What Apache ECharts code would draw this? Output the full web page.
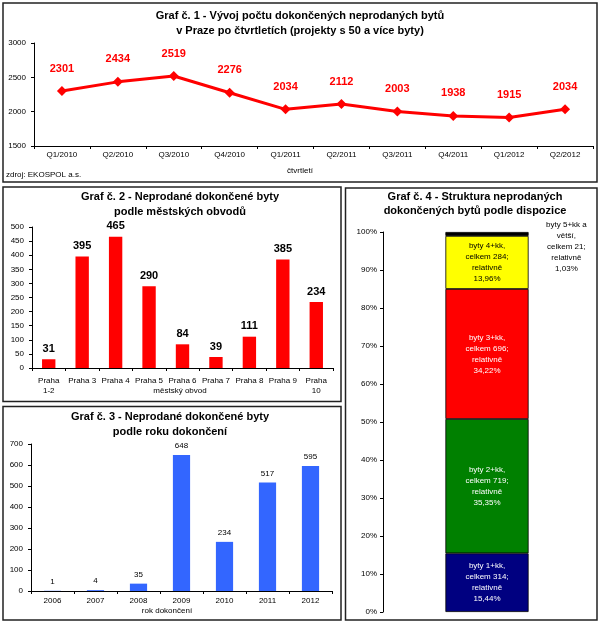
<!DOCTYPE html>
<html><head><meta charset="utf-8">
<script src="https://cdn.jsdelivr.net/npm/echarts@6/dist/echarts.min.js"></script>
<style>html,body{margin:0;padding:0;background:#fff}#c{width:600px;height:622px}</style>
</head><body><div id="c"></div>
<script>
// ---- data ----
const quarters = ['Q1/2010','Q2/2010','Q3/2010','Q4/2010','Q1/2011','Q2/2011','Q3/2011','Q4/2011','Q1/2012','Q2/2012'];
const unsoldByQuarter = [2301,2434,2519,2276,2034,2112,2003,1938,1915,2034];
const quarterTicks = {min:1500, max:3000, interval:500};

const districts = ['Praha\n1-2','Praha 3','Praha 4','Praha 5','Praha 6','Praha 7','Praha 8','Praha 9','Praha\n10'];
const unsoldByDistrict = [31,395,465,290,84,39,111,385,234];
const districtTicks = {min:0, max:500, interval:50};

const years = ['2006','2007','2008','2009','2010','2011','2012'];
const unsoldByYear = [1,4,35,648,234,517,595];
const yearTicks = {min:0, max:700, interval:100};

const layoutNames = ['byty 1+kk','byty 2+kk','byty 3+kk','byty 4+kk','byty 5+kk a větší'];
const layoutCounts = [314,719,696,284,21];
const layoutShares = [15.44,35.35,34.22,13.96,1.03];
const layoutShareText = ['15,44%','35,35%','34,22%','13,96%','1,03%'];
const layoutColors = ['#000080','#008000','#FF0000','#FFFF00','#000000'];
const layoutLabelColors = ['#fff','#fff','#fff','#000','#000'];

const FONT = "'Liberation Sans',Arial,sans-serif";

// ---- chart ----
const chart = echarts.init(document.getElementById('c'), null, {renderer:'canvas'});

function plain(v){ return String(v); }
function axisCommon(extra){
  return Object.assign({
    axisLine:{show:true,lineStyle:{color:'#000',width:1}},
    axisTick:{show:true,length:3,lineStyle:{color:'#000'}},
    axisLabel:{color:'#000',fontSize:8,fontFamily:FONT,formatter:plain},
    splitLine:{show:false}
  }, extra);
}

function txt(x,y,text,size,bold,align){
  return {type:'text',x:x,y:y,silent:true,style:{text:text,fontSize:size,fontWeight:bold?'bold':'normal',fontFamily:FONT,fill:'#000',align:align||'center',verticalAlign:'middle'}};
}
function box(x,y,w,h){
  return {type:'rect',silent:true,shape:{x:x,y:y,width:w,height:h},style:{fill:'none',stroke:'#222',lineWidth:1.5}};
}

const stackSeries = layoutNames.map((nm,i)=>{
  const lbl = (i===0?'byty 1+kk,':i===1?'byty 2+kk,':i===2?'byty 3+kk,':i===3?'byty 4+kk,':'byty 5+kk a\nvětší,') +
     '\ncelkem ' + layoutCounts[i] + ';\nrelativně\n' + layoutShareText[i];
  const s = {
    name:nm, type:'bar', stack:'disp', xAxisIndex:3, yAxisIndex:3, barWidth:'40%',
    data:[layoutShares[i]],
    itemStyle:{color:layoutColors[i],borderColor:'#000',borderWidth:0.8},
    label:{show:true,formatter:lbl,color:layoutLabelColors[i],fontSize:8,lineHeight:11,fontFamily:FONT,position:'inside'}
  };
  if(i===4){
    s.label.position=[121,15];
    s.label.align='center';
    s.label.verticalAlign='middle';
  }
  return s;
});

const option = {
  backgroundColor:'#fff',
  animation:false,
  grid:[
    {left:34, top:43, width:559, height:103},
    {left:32, top:227, width:301, height:141},
    {left:31, top:444, width:301, height:147},
    {left:383, top:232, width:208, height:380}
  ],
  xAxis:[
    axisCommon({type:'category',gridIndex:0,data:quarters,axisLabel:{color:'#000',fontSize:8,fontFamily:FONT,interval:0,margin:5}}),
    axisCommon({type:'category',gridIndex:1,data:districts,axisLabel:{color:'#000',fontSize:8,fontFamily:FONT,interval:0,margin:8,lineHeight:10}}),
    axisCommon({type:'category',gridIndex:2,data:years,axisLabel:{color:'#000',fontSize:8,fontFamily:FONT,interval:0,margin:6}}),
    {type:'category',gridIndex:3,data:['dispozice'],axisLine:{show:false},axisTick:{show:false},axisLabel:{show:false},splitLine:{show:false}}
  ],
  yAxis:[
    axisCommon({type:'value',gridIndex:0,min:quarterTicks.min,max:quarterTicks.max,interval:quarterTicks.interval}),
    axisCommon({type:'value',gridIndex:1,min:districtTicks.min,max:districtTicks.max,interval:districtTicks.interval}),
    axisCommon({type:'value',gridIndex:2,min:yearTicks.min,max:yearTicks.max,interval:yearTicks.interval}),
    axisCommon({type:'value',gridIndex:3,min:0,max:100,interval:10,axisLabel:{color:'#000',fontSize:8,fontFamily:FONT,formatter:'{value}%',margin:6}})
  ],
  series:[
    {type:'line',xAxisIndex:0,yAxisIndex:0,data:unsoldByQuarter,symbol:'diamond',symbolSize:10,
     lineStyle:{color:'#FF0000',width:3},itemStyle:{color:'#FF0000'},
     label:{show:true,position:'top',distance:12,color:'#FF0000',fontSize:11,fontWeight:'bold',fontFamily:FONT}},
    {type:'bar',xAxisIndex:1,yAxisIndex:1,data:unsoldByDistrict,barWidth:'40%',itemStyle:{color:'#FF0000'},
     label:{show:true,position:'top',distance:5,color:'#000',fontSize:11,fontWeight:'bold',fontFamily:FONT}},
    {type:'bar',xAxisIndex:2,yAxisIndex:2,data:unsoldByYear,barWidth:'40%',itemStyle:{color:'#3366FF'},
     label:{show:true,position:'top',distance:5,color:'#000',fontSize:8,fontFamily:FONT}}
  ].concat(stackSeries),
  graphic:[
    box(3,3,594,179),
    box(3,187,338,214.5),
    box(3,406.5,338,213.5),
    box(345.5,188,251.5,432),
    txt(300,16,'Graf č. 1 - Vývoj počtu dokončených neprodaných bytů',11,true),
    txt(300,31,'v Praze po čtvrtletích (projekty s 50 a více byty)',11,true),
    txt(300,171,'čtvrtletí',8,false),
    txt(6,175,'zdroj: EKOSPOL a.s.',8,false,'left'),
    txt(180,197,'Graf č. 2 - Neprodané dokončené byty',11,true),
    txt(180,212,'podle městských obvodů',11,true),
    txt(180,391,'městský obvod',8,false),
    txt(170,417,'Graf č. 3 - Neprodané dokončené byty',11,true),
    txt(170,432,'podle roku dokončení',11,true),
    txt(167,611,'rok dokončení',8,false),
    txt(475,197,'Graf č. 4 - Struktura neprodaných',11,true),
    txt(475,211,'dokončených bytů podle dispozice',11,true)
  ]
};
chart.setOption(option);
</script></body></html>
